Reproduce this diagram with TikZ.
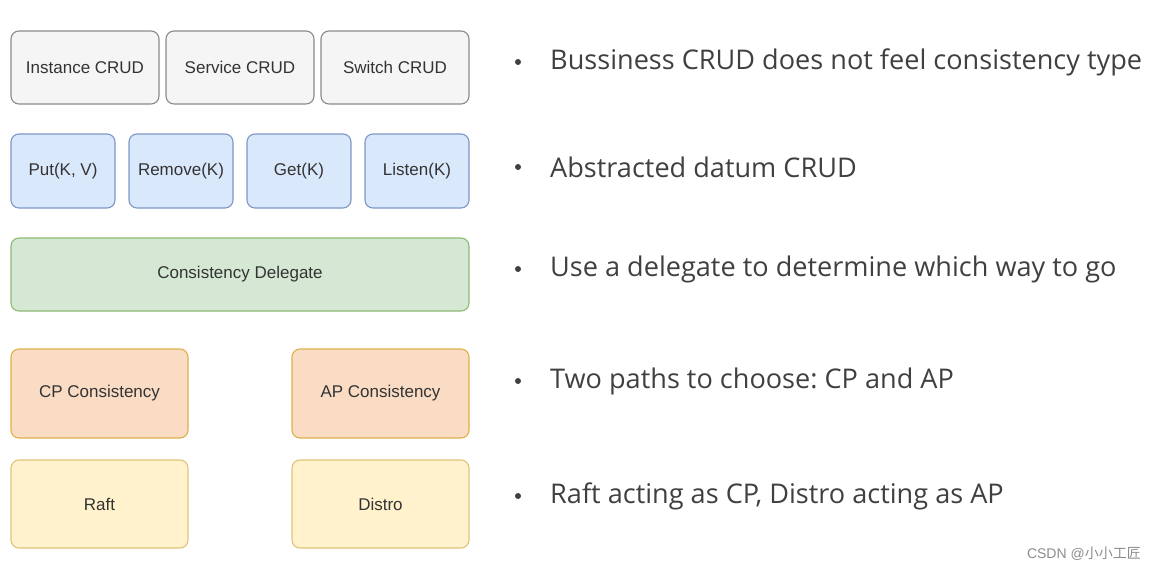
\documentclass[tikz,border=0pt]{standalone}
\usepackage{fontspec}
\setmainfont{Liberation Sans}
\newfontfamily\notefont{Open Sans}
\newfontfamily\cjk{Noto Sans CJK SC}
\frenchspacing
\definecolor{grayfill}{HTML}{F5F5F5}
\definecolor{grayline}{HTML}{8A8A8A}
\definecolor{bluefill}{HTML}{DAE8FC}
\definecolor{blueline}{HTML}{7C98C4}
\definecolor{greenfill}{HTML}{D5E8D4}
\definecolor{greenline}{HTML}{8DBA74}
\definecolor{orangefill}{HTML}{FADCC4}
\definecolor{orangeline}{HTML}{DDB04A}
\definecolor{yellowfill}{HTML}{FFF2CC}
\definecolor{yellowline}{HTML}{DEC47A}
\definecolor{notegray}{HTML}{404040}
\tikzset{
  layer/.style={draw, rounded corners=8, line width=1.1, text=black!80,
    font=\fontsize{17}{20}\selectfont, inner sep=0},
  graybox/.style={layer, fill=grayfill, draw=grayline},
  bluebox/.style={layer, fill=bluefill, draw=blueline},
  greenbox/.style={layer, fill=greenfill, draw=greenline},
  orangebox/.style={layer, fill=orangefill, draw=orangeline},
  yellowbox/.style={layer, fill=yellowfill, draw=yellowline},
  note/.style={anchor=west, text=notegray, inner sep=0,
    font=\notefont\fontsize{27.1}{32}\selectfont},
  dot/.style={circle, fill=notegray, inner sep=0, minimum size=6}
}
\begin{document}
\begin{tikzpicture}[x=1pt,y=-1pt]
\useasboundingbox (0,0) rectangle (1156,573);
% business CRUD
\node[graybox, minimum width=148, minimum height=73] (inst) at (85,67.5) {Instance CRUD};
\node[graybox, minimum width=148, minimum height=73] (serv) at (240,67.5) {Service CRUD};
\node[graybox, minimum width=148, minimum height=73] (swit) at (395,67.5) {Switch CRUD};
% datum CRUD
\node[bluebox, minimum width=104, minimum height=74] (put) at (63,171) {Put(K, V)};
\node[bluebox, minimum width=104, minimum height=74] (remove) at (181,171) {Remove(K)};
\node[bluebox, minimum width=104, minimum height=74] (get) at (299,171) {Get(K)};
\node[bluebox, minimum width=104, minimum height=74] (listen) at (417,171) {Listen(K)};
% delegate
\node[greenbox, minimum width=458, minimum height=73] (deleg) at (240,274.5) {Consistency Delegate};
% paths
\node[orangebox, minimum width=177, minimum height=89] (cp) at (99.5,393.5) {CP Consistency};
\node[orangebox, minimum width=177, minimum height=89] (ap) at (380.5,393.5) {AP Consistency};
\node[yellowbox, minimum width=177, minimum height=88] (raft) at (99.5,504) {Raft};
\node[yellowbox, minimum width=177, minimum height=88] (distro) at (380.5,504) {Distro};
% notes
\node[dot] (d1) at (518,62) {};
\node[note] (n1) at (550,62) {Bussiness CRUD does not feel consistency type};
\node[dot] (d2) at (518,167) {};
\node[note] (n2) at (550,167) {Abstracted datum CRUD};
\node[dot] (d3) at (518,269) {};
\node[note] (n3) at (550,269) {Use a delegate to determine which way to go};
\node[dot] (d4) at (518,381) {};
\node[note] (n4) at (550,381) {Two paths to choose: CP and AP};
\node[dot] (d5) at (518,496) {};
\node[note] (n5) at (550,496) {Raft acting as CP, Distro acting as AP};
% watermark
\node[anchor=east, text=black!45, inner sep=0, font=\fontsize{14}{16}\selectfont] (mark) at (1141,554) {CSDN @{\cjk 小小工匠}};
\end{tikzpicture}
\end{document}
